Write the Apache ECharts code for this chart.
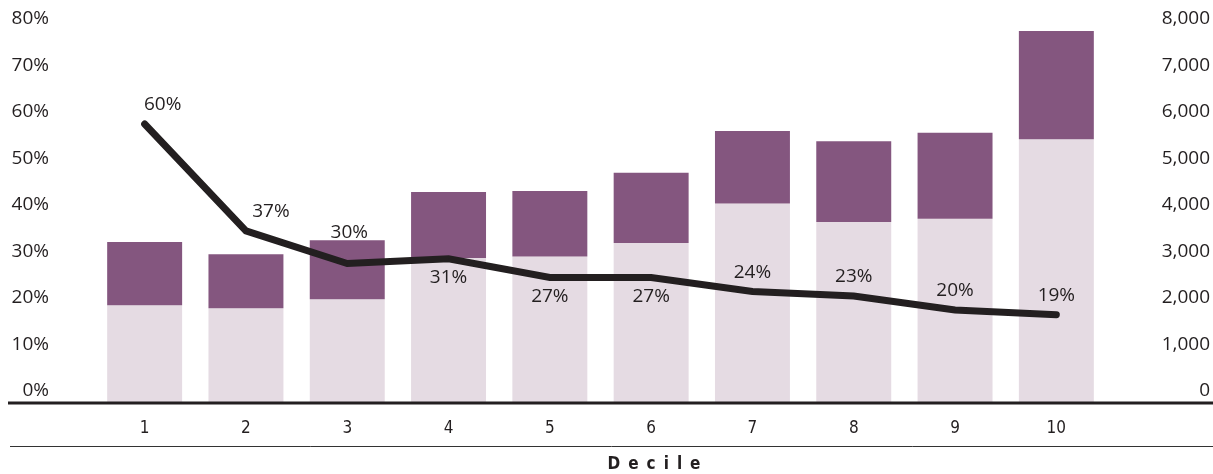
<!DOCTYPE html>
<html>
<head>
<meta charset="utf-8">
<script src="https://cdn.jsdelivr.net/npm/echarts@6/dist/echarts.min.js"></script>
<style>
  html, body { margin: 0; padding: 0; background: #fff; }
  #chart { width: 1213px; height: 474px; }
</style>
</head>
<body>
<div id="chart"></div>
<script>
// Income deciles
const deciles = ['1', '2', '3', '4', '5', '6', '7', '8', '9', '10'];
// Lower (light) segment of each bar, right axis
const baseValues = [2100, 2040, 2230, 3120, 3150, 3440, 4290, 3890, 3960, 5670];
// Bar totals, right axis
const totalValues = [3460, 3200, 3500, 4540, 4560, 4950, 5850, 5630, 5810, 8000];
// Upper (purple) segment = total minus lower segment
const topValues = totalValues.map((t, i) => t - baseValues[i]);
// Share line, left axis (%)
const shareValues = [60, 37, 30, 31, 27, 27, 24, 23, 20, 19];
// Where each share label sits relative to its point
const labelPlacement = ['top', 'top', 'top', 'bottom', 'bottom', 'bottom', 'top', 'top', 'top', 'top'];
const labelShift = [[18, 0], [25, 0], [2, -12], [0, 0], [0, 0], [0, 0], [0, 0], [0, 0], [0, 0], [0, 0]];

const ink = '#231f20';
const mainFont = "'Open Sans', 'Noto Sans', sans-serif";
const narrowFont = "'Liberation Sans Narrow', 'DejaVu Sans Condensed', 'Open Sans', sans-serif";

const chart = echarts.init(document.getElementById('chart'), null, { renderer: 'canvas' });

const lineData = shareValues.map((v, i) => ({
  value: v,
  label: { position: labelPlacement[i], offset: labelShift[i] }
}));

const option = {
  animation: false,
  backgroundColor: '#ffffff',
  grid: { left: 94, right: 106, top: 31, bottom: 71, containLabel: false },
  xAxis: {
    type: 'category',
    data: deciles,
    axisLine: { show: false },
    axisTick: { show: false },
    axisLabel: { color: ink, fontFamily: narrowFont, fontSize: 17, margin: 17 }
  },
  yAxis: [
    {
      type: 'value', position: 'left', min: 0, max: 80, interval: 10,
      splitLine: { show: false }, axisLine: { show: false }, axisTick: { show: false },
      axisLabel: {
        formatter: '{value}%', color: ink, fontFamily: mainFont, fontSize: 19,
        margin: 45, verticalAlign: 'bottom', lineHeight: 24
      }
    },
    {
      type: 'value', position: 'right', min: 0, max: 8000, interval: 1000,
      splitLine: { show: false }, axisLine: { show: false }, axisTick: { show: false },
      axisLabel: {
        formatter: v => v.toLocaleString('en-US'), color: ink, fontFamily: mainFont, fontSize: 19,
        margin: 103, align: 'right', verticalAlign: 'bottom', lineHeight: 24
      }
    }
  ],
  series: [
    {
      type: 'bar', yAxisIndex: 1, stack: 'total', data: baseValues,
      barWidth: '74%', itemStyle: { color: '#e5dbe3' }, clip: false
    },
    {
      type: 'bar', yAxisIndex: 1, stack: 'total', data: topValues,
      barWidth: '74%', itemStyle: { color: '#84567f' }, clip: false
    },
    {
      type: 'line', yAxisIndex: 0, data: lineData,
      showSymbol: true, symbol: 'circle', symbolSize: 1, z: 5,
      itemStyle: { color: ink },
      lineStyle: { color: ink, width: 7, cap: 'round', join: 'miter' },
      label: {
        show: true, formatter: '{c}%', color: ink, fontFamily: mainFont, fontSize: 19, distance: 9
      }
    }
  ],
  graphic: [
    { type: 'line', shape: { x1: 8, y1: 403, x2: 1213, y2: 403 }, style: { stroke: ink, lineWidth: 3 }, z: 10 },
    { type: 'line', shape: { x1: 10, y1: 446.5, x2: 1213, y2: 446.5 }, style: { stroke: '#333', lineWidth: 1 }, z: 10 },
    {
      type: 'text', x: 654, y: 465, z: 10,
      style: {
        text: '{l|D}{l|e}{l|c}{l|i}{l|l}{l|e}',
        align: 'center', verticalAlign: 'middle',
        rich: { l: { fontFamily: narrowFont, fontSize: 17, fontWeight: 'bold', fill: ink, padding: [0, 4, 0, 4] } }
      }
    }
  ]
};

chart.setOption(option);
</script>
</body>
</html>
